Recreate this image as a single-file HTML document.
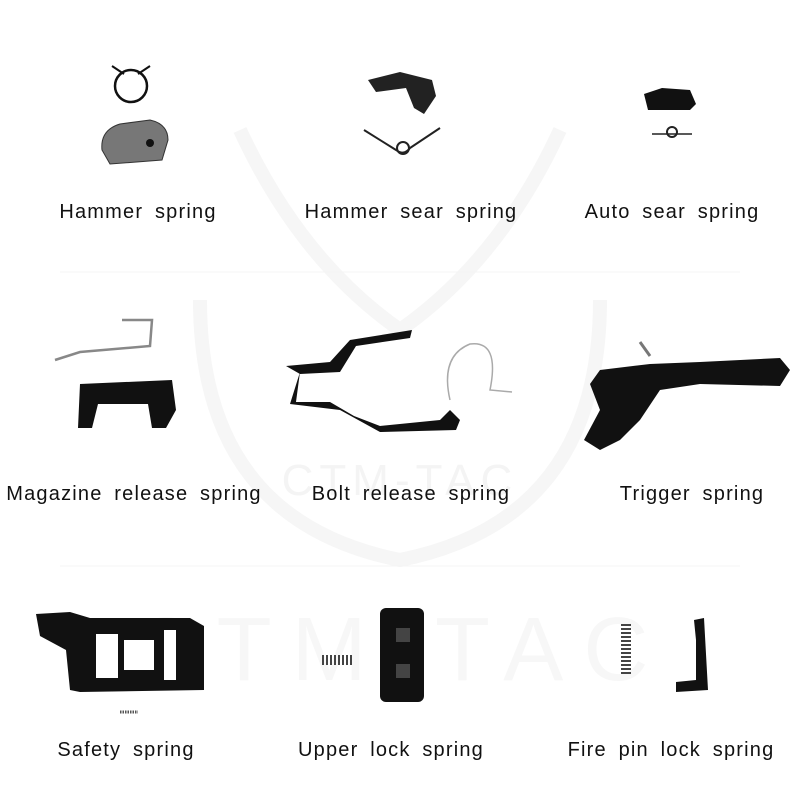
<!DOCTYPE html>
<html><head><meta charset="utf-8"><style>
html,body{margin:0;padding:0;background:#fff;}
svg{display:block;}
text{font-family:"Liberation Sans",sans-serif;font-size:20px;fill:#111;letter-spacing:1.2px;word-spacing:5px;text-anchor:middle;}
</style></head><body>
<svg width="800" height="800" viewBox="0 0 800 800" xmlns="http://www.w3.org/2000/svg">
<g fill="none" stroke="#f6f6f6" stroke-width="14">
<path d="M240 130 Q300 260 400 330 Q500 260 560 130"/>
<path d="M200 300 Q200 520 400 560 Q600 520 600 300"/>
</g>
<text x="400" y="495" style="font-size:44px;fill:#f4f4f4;letter-spacing:6px">CTM-TAC</text>
<text x="400" y="680" style="font-size:90px;fill:#f7f7f7;letter-spacing:20px">CTM TAC</text>
<line x1="60" y1="272" x2="740" y2="272" stroke="#f4f4f4"/>
<line x1="60" y1="566" x2="740" y2="566" stroke="#f4f4f4"/>

<circle cx="131" cy="86" r="16" fill="none" stroke="#111" stroke-width="2.5"/>
<path d="M112 66 L124 74 M150 66 L138 74" stroke="#111" stroke-width="2"/>
<path d="M102 150 Q100 130 120 124 L150 120 Q168 124 168 140 L162 160 L110 164 Z" fill="#777" stroke="#333"/>
<circle cx="150" cy="143" r="4" fill="#111"/>

<path d="M368 80 L400 72 L432 80 L436 96 L424 114 L414 108 L406 88 L376 92 Z" fill="#222"/>
<path d="M364 130 L396 150 Q404 156 410 148 L440 128" fill="none" stroke="#222" stroke-width="2"/>
<circle cx="403" cy="148" r="6" fill="none" stroke="#222" stroke-width="2"/>

<path d="M644 94 L662 88 L690 90 L696 104 L690 110 L648 110 Z" fill="#111"/>
<circle cx="672" cy="132" r="5" fill="none" stroke="#222" stroke-width="2"/>
<path d="M652 134 L692 134" stroke="#222" stroke-width="1.5"/>

<text x="138" y="218">Hammer spring</text>
<text x="411" y="218">Hammer sear spring</text>
<text x="672" y="218">Auto sear spring</text>

<path d="M55 360 L80 352 L150 346 L152 320 L122 320" fill="none" stroke="#888" stroke-width="2.5"/>
<path d="M80 384 L172 380 L176 410 L166 428 L152 428 L148 404 L98 404 L92 428 L78 428 Z" fill="#111"/>

<path d="M286 366 L330 362 L350 340 L412 330 L410 338 L356 346 L340 372 L300 374 Z" fill="#111"/>
<path d="M300 372 L296 402 L330 402 L354 416 L380 426 L440 420 L450 410 L460 420 L456 430 L380 432 L340 410 L290 404 Z" fill="#111"/>
<path d="M450 400 Q440 356 470 344 Q500 340 490 390 L512 392" fill="none" stroke="#aaa" stroke-width="1.5"/>

<path d="M640 342 L650 356" stroke="#777" stroke-width="3"/>
<path d="M600 370 L650 364 L700 362 L780 358 L790 370 L780 386 L700 384 L660 390 L640 420 L620 440 L600 450 L584 440 L600 410 L590 384 Z" fill="#111"/>

<text x="134" y="500">Magazine release spring</text>
<text x="411" y="500">Bolt release spring</text>
<text x="692" y="500">Trigger spring</text>

<path d="M36 614 L70 612 L90 618 L190 618 L204 626 L204 690 L80 692 L70 690 L66 650 L40 636 Z" fill="#111"/>
<rect x="96" y="634" width="22" height="44" fill="#fff"/>
<rect x="124" y="640" width="30" height="30" fill="#fff"/>
<rect x="164" y="630" width="12" height="50" fill="#fff"/>
<path d="M120 712 L138 712" stroke="#555" stroke-width="3" stroke-dasharray="1.5 1"/>

<path d="M322 660 L354 660" stroke="#444" stroke-width="10" stroke-dasharray="2 2"/>
<rect x="380" y="608" width="44" height="94" rx="6" fill="#111"/>
<rect x="396" y="628" width="14" height="14" fill="#444"/>
<rect x="396" y="664" width="14" height="14" fill="#444"/>

<path d="M626 624 L626 676" stroke="#444" stroke-width="10" stroke-dasharray="2 2"/>
<path d="M694 620 L704 618 L708 690 L676 692 L676 682 L696 680 L696 640 Z" fill="#111"/>

<text x="126" y="756">Safety spring</text>
<text x="391" y="756">Upper lock spring</text>
<text x="671" y="756">Fire pin lock spring</text>
</svg>
</body></html>
